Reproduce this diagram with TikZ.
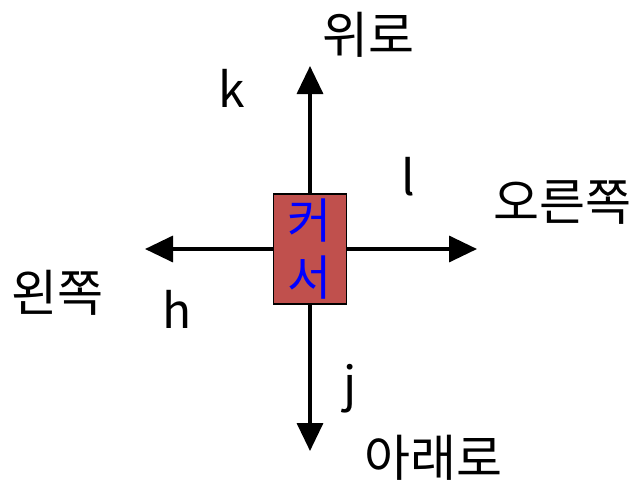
\documentclass[tikz,border=0pt]{standalone}
\usepackage{fontspec}
\setmainfont{Noto Sans CJK KR}
\usetikzlibrary{arrows.meta}
\definecolor{boxred}{HTML}{C0504D}
\begin{document}
\begin{tikzpicture}[x=1pt,y=-1pt,
  arr/.style={line width=3.5pt,-{Triangle[length=28pt,width=26pt]}},
  lbl/.style={font=\fontsize{48}{52}\selectfont,inner sep=0pt},
  klbl/.style={font=\fontsize{50}{56}\selectfont,inner sep=0pt},
  cursorbox/.style={draw=black,line width=1.5pt,fill=boxred,minimum width=73pt,minimum height=110pt,inner sep=0pt}]
\useasboundingbox (0,0) rectangle (636,485);
\node[cursorbox] (c) at (310,249) {};
\node[text=blue,font=\fontsize{48}{52}\selectfont,inner sep=0pt] (t1) at (310,221) {커};
\node[text=blue,font=\fontsize{48}{52}\selectfont,inner sep=0pt] (t2) at (310,278) {서};
\coordinate (up) at (310,66);
\coordinate (down) at (310,451);
\coordinate (left) at (145,249);
\coordinate (right) at (477,249);
\draw[arr] (c.north) -- (up);
\draw[arr] (c.south) -- (down);
\draw[arr] (c.west) -- (left);
\draw[arr] (c.east) -- (right);
\node[klbl] (lup) at (368,35) {위로};
\node[lbl] (lk) at (232,88) {k};
\node[lbl] (ll) at (408,177) {l};
\node[klbl] (lright) at (562,203) {오른쪽};
\node[klbl] (lleft) at (57,293) {왼쪽};
\node[lbl] (lh) at (177,309) {h};
\node[lbl] (lj) at (350,389) {j};
\node[klbl] (ldown) at (433,458) {아래로};
\end{tikzpicture}
\end{document}
